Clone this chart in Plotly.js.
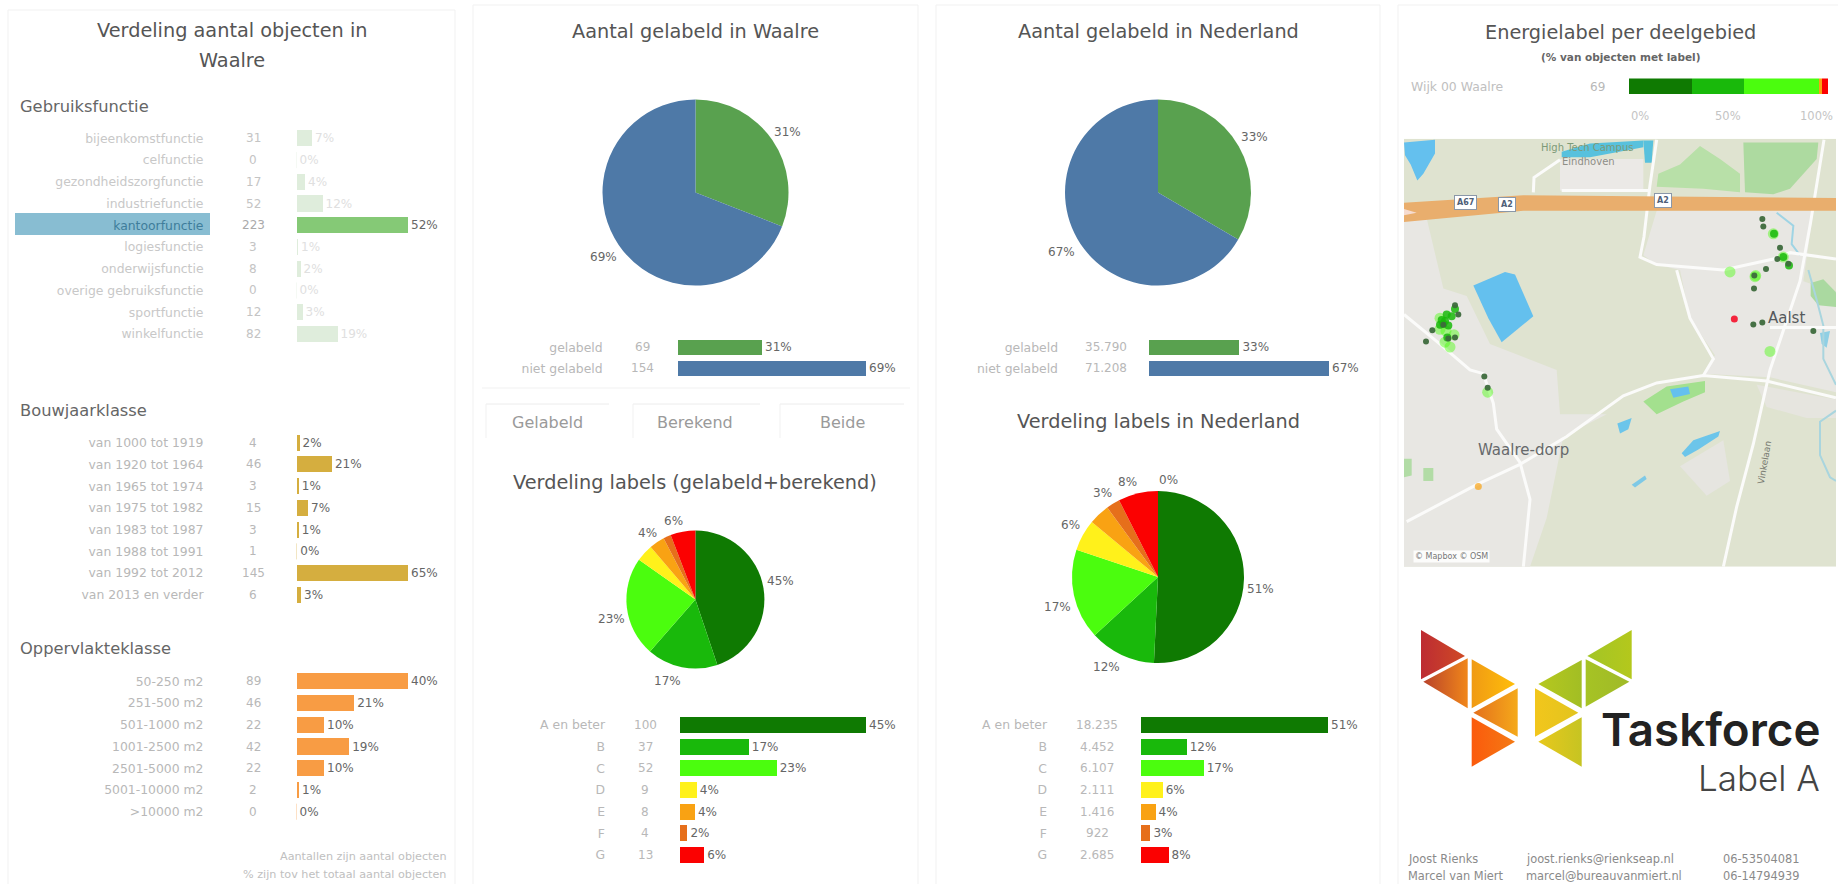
<!DOCTYPE html>
<html><head><meta charset="utf-8">
<script src="https://cdn.plot.ly/plotly-3.0.1.min.js"></script>
<style>html,body{margin:0;padding:0;background:#fff;overflow:hidden}#g{width:1838px;height:884px}</style>
</head><body><div id="g"></div>
<script>
const W=1838,H=884,FONT='"DejaVu Sans",sans-serif';
// ---------- data ----------
const gebruikCats=['bijeenkomstfunctie','celfunctie','gezondheidszorgfunctie','industriefunctie','kantoorfunctie','logiesfunctie','onderwijsfunctie','overige gebruiksfunctie','sportfunctie','winkelfunctie'];
const gebruikCounts=[31,0,17,52,223,3,8,0,12,82];
const gebruikPct=['7%','0%','4%','12%','52%','1%','2%','0%','3%','19%'];
const bouwjaarCats=['van 1000 tot 1919','van 1920 tot 1964','van 1965 tot 1974','van 1975 tot 1982','van 1983 tot 1987','van 1988 tot 1991','van 1992 tot 2012','van 2013 en verder'];
const bouwjaarCounts=[4,46,3,15,3,1,145,6];
const bouwjaarPct=['2%','21%','1%','7%','1%','0%','65%','3%'];
const oppCats=['50-250 m2','251-500 m2','501-1000 m2','1001-2500 m2','2501-5000 m2','5001-10000 m2','>10000 m2'];
const oppCounts=[89,46,22,42,22,2,0];
const oppPct=['40%','21%','10%','19%','10%','1%','0%'];
const gelabeldCats=['gelabeld','niet gelabeld'];
const waalreLabeled=[69,154];
const waalreLabeledPct=['31%','69%'];
const nlLabeled=[35790,71208];
const nlLabeledText=['35.790','71.208'];
const nlLabeledPct=['33%','67%'];
const labelCats=['A en beter','B','C','D','E','F','G'];
const waalreDist=[100,37,52,9,8,4,13];
const waalreDistPct=['45%','17%','23%','4%','4%','2%','6%'];
const nlDist=[18235,4452,6107,2111,1416,922,2685];
const nlDistText=['18.235','4.452','6.107','2.111','1.416','922','2.685'];
const nlDistPct=['51%','12%','17%','6%','4%','3%','8%'];
const wijkValues=[22,18,26,0,1,0,2];
const labelColors=['#0f7a02','#19b90b','#4bfd0e','#fff11b','#f9a213','#e66f1b','#fb0101'];
const gelabeldColors=['#59a14f','#4e79a7'];
// pie label texts with their page positions
const pieLabels=[
 ['31%',787,132],['69%',603,257],
 ['33%',1254,137],['67%',1061,252],
 ['45%',780,581],['17%',667,681],['23%',611,619],['4%',647,533],['6%',673,521],
 ['51%',1260,589],['12%',1106,667],['17%',1057,607],['6%',1070,525],['3%',1102,493],['8%',1127,482],['0%',1168,480]
];
// map points in map-axis units
const dotsAx=[1117,1120,1170,1162,1195,1128,1093,1092,1090,1117,1270,108,283,293,195,205,127,175,195,160];
const dotsAy=[592,612,670,700,713,727,745,780,877,872,895,923,1018,1048,825,850,893,915,912,878];
const dotsBx=[160,170,150,165,195,1152,1180,185,172,1197,155,175];
const dotsBy=[875,850,878,868,835,632,695,855,912,718,865,880];
const dotsCx=[1150,1180,1020,1140,180,165,150,293,168,1097,150,1095,192];
const dotsCy=[632,695,735,950,938,925,890,1060,895,745,860,748,905];
const dotsGx=[1033];const dotsGy=[862];
const dotsEx=[265];const dotsEy=[1315];

// ---------- helpers ----------
const px=x=>x/W, py=y=>1-y/H;
const shapes=[],annotations=[],traces=[],layout={};
let axisN=0;
function note(text,x,y,o={}){annotations.push(Object.assign({text,x:px(x),y:py(y),xref:'paper',yref:'paper',showarrow:false,xanchor:'center',yanchor:'middle',font:{family:FONT,size:12,color:'#b8b8b8'}},o,o.font?{font:Object.assign({family:FONT,size:12,color:'#b8b8b8'},o.font)}:{}));}
function rect(x0,y0,x1,y1,o={}){shapes.push(Object.assign({type:'rect',xref:'paper',yref:'paper',x0:px(x0),x1:px(x1),y0:py(y0),y1:py(y1),line:{width:1,color:'#f1f1f1'},fillcolor:'rgba(0,0,0,0)',layer:'below'},o));}
function hline(x0,y0,x1,y1,c='#f1f1f1'){shapes.push({type:'line',xref:'paper',yref:'paper',x0:px(x0),x1:px(x1),y0:py(y0),y1:py(y1),line:{width:1,color:c},layer:'below'});}
const titleFont={size:19.3,color:'#555555'};
const headFont={size:16.3,color:'#666666'};

function barGroup(o){
  const n=++axisN, cats=o.cats, step=o.step||21.74;
  const top=o.firstY-step/2, bot=top+step*cats.length;
  const maxV=Math.max(...o.values);
  layout['xaxis'+n]={domain:[px(o.x0),px(o.x1)],range:[0,maxV],visible:false,fixedrange:true,anchor:'y'+n};
  layout['yaxis'+n]={domain:[py(bot),py(top)],type:'category',categoryorder:'array',categoryarray:cats,autorange:'reversed',anchor:'x'+n,
    showgrid:false,zeroline:false,showline:false,ticks:'',fixedrange:true,tickmode:'array',tickvals:cats,
    ticktext:o.tickText||cats,tickfont:{family:FONT,size:12.4,color:'#b8b8b8'},ticklabelstandoff:Math.round(o.x0-o.labelRight)};
  traces.push({type:'bar',orientation:'h',y:cats,x:o.values,xaxis:'x'+n,yaxis:'y'+n,marker:{color:o.colors,line:{width:0}},
    text:o.pct,textposition:'outside',cliponaxis:false,constraintext:'none',textangle:0,
    textfont:{family:FONT,size:12,color:o.pctColors||'#666666'},hoverinfo:'skip'});
  cats.forEach((c,i)=>{
    annotations.push({text:String(o.countText?o.countText[i]:o.values[i]),x:px(o.countX),xref:'paper',y:c,yref:'y'+n,showarrow:false,xanchor:'center',yanchor:'middle',
      font:{family:FONT,size:12,color:o.countColors?o.countColors[i]:'#b8b8b8'}});
    // bars narrower than a pixel still leave a hairline in the reference
    if(o.values[i]/maxV*(o.x1-o.x0)<1) shapes.push({type:'line',xref:'x'+n,yref:'y'+n,x0:0,x1:0,y0:i-0.37,y1:i+0.37,line:{width:1,color:o.colors[i]},opacity:0.6,layer:'below'});
  });
}
function pie(o){
  traces.push({type:'pie',values:o.values,textinfo:'none',sort:false,direction:'clockwise',rotation:0,
    marker:{colors:o.colors,line:{width:0}},domain:{x:[px(o.cx-o.r),px(o.cx+o.r)],y:[py(o.cy+o.r),py(o.cy-o.r)]},showlegend:false,hoverinfo:'skip',automargin:false});
}

// ---------- panels ----------
rect(8,10,455,890);rect(473,5,918,890);rect(936,5,1380,890);rect(1398,5,1850,890);
hline(482,388,910,388);
[[486,609],[633,760],[780,904]].forEach(t=>{hline(t[0],404,t[1],404,'#ececec');hline(t[0],404,t[0],438,'#f1f1f1');});
pieLabels.forEach(l=>note(l[0],l[1],l[2],{font:{size:12,color:'#666666'}}));

// ---------- panel 1 ----------
note('Verdeling aantal objecten in',232,31,{font:titleFont});
note('Waalre',232,61,{font:titleFont});
note('Gebruiksfunctie',18,106,{xanchor:'left',font:headFont});
note('Bouwjaarklasse',18,410,{xanchor:'left',font:headFont});
note('Oppervlakteklasse',18,648,{xanchor:'left',font:headFont});
rect(15,213,210,235,{fillcolor:'#88bdd2',line:{width:0}});
const hi=gebruikCats.indexOf('kantoorfunctie');
barGroup({cats:gebruikCats,values:gebruikCounts,pct:gebruikPct,firstY:138.3,x0:296.5,x1:408,labelRight:205,countX:253,
  colors:gebruikCats.map((c,i)=>i===hi?'#85c976':'#dfeddc'),
  pctColors:gebruikCats.map((c,i)=>i===hi?'#666666':'#e0e0e0'),
  countColors:gebruikCats.map((c,i)=>i===hi?'#aaaaaa':'#c4c4c4'),
  tickText:gebruikCats.map((c,i)=>i===hi?'<span style="color:#3f7d9b">'+c+'</span>':'<span style="color:#c8c8c8">'+c+'</span>')});
barGroup({cats:bouwjaarCats,values:bouwjaarCounts,pct:bouwjaarPct,firstY:442.7,x0:296.5,x1:408,labelRight:205,countX:253,colors:bouwjaarCats.map(()=>'#d5ae3f')});
barGroup({cats:oppCats,values:oppCounts,pct:oppPct,firstY:681.3,x0:296.5,x1:408,labelRight:205,countX:253,colors:oppCats.map(()=>'#f89c44')});
note('Aantallen zijn aantal objecten',448,856,{xanchor:'right',font:{size:11.2,color:'#c0c0c0'}});
note('% zijn tov het totaal aantal objecten',448,874,{xanchor:'right',font:{size:11.2,color:'#c0c0c0'}});

// ---------- panel 2 ----------
note('Aantal gelabeld in Waalre',695,32,{font:titleFont});
pie({values:waalreLabeled,colors:gelabeldColors,cx:695.5,cy:192.5,r:93});
barGroup({cats:gelabeldCats,values:waalreLabeled,pct:waalreLabeledPct,firstY:347.3,step:21,x0:677.6,x1:866,labelRight:604,countX:642,colors:gelabeldColors});
note('Gelabeld',547,422,{font:{size:16,color:'#9a9a9a'}});
note('Berekend',695,422,{font:{size:16,color:'#9a9a9a'}});
note('Beide',842.5,422,{font:{size:16,color:'#9a9a9a'}});
note('Verdeling labels (gelabeld+berekend)',695,482.7,{font:titleFont});
pie({values:waalreDist,colors:labelColors,cx:695.4,cy:599.5,r:69});
barGroup({cats:labelCats,values:waalreDist,pct:waalreDistPct,firstY:725,step:21.67,x0:680,x1:866,labelRight:606,countX:645,colors:labelColors});

// ---------- panel 3 ----------
note('Aantal gelabeld in Nederland',1158,32,{font:titleFont});
pie({values:nlLabeled,colors:gelabeldColors,cx:1158,cy:192.5,r:93});
barGroup({cats:gelabeldCats,values:nlLabeled,countText:nlLabeledText,pct:nlLabeledPct,firstY:347.3,step:21,x0:1149,x1:1329,labelRight:1059,countX:1106,colors:gelabeldColors});
note('Verdeling labels in Nederland',1158,421.7,{font:titleFont});
pie({values:nlDist,colors:labelColors,cx:1158,cy:577,r:86});
barGroup({cats:labelCats,values:nlDist,countText:nlDistText,pct:nlDistPct,firstY:725,step:21.67,x0:1141,x1:1328,labelRight:1048,countX:1097,colors:labelColors});

// ---------- panel 4: header and stacked bar ----------
note('Energielabel per deelgebied',1620,33,{font:titleFont});
note('(% van objecten met label)',1620,56.6,{font:{size:10.5,color:'#666666',weight:700}});
note('Wijk 00 Waalre',1409,87,{xanchor:'left',font:{size:12.4,color:'#c0c0c0'}});
note('69',1597,87,{font:{size:12,color:'#b8b8b8'}});
{
  const n=++axisN, total=wijkValues.reduce((a,b)=>a+b,0);
  layout['xaxis'+n]={domain:[px(1629),px(1828)],range:[0,total],visible:false,fixedrange:true,anchor:'y'+n};
  layout['yaxis'+n]={domain:[py(94.3),py(78.4)],range:[-0.5,0.5],visible:false,fixedrange:true,anchor:'x'+n};
  wijkValues.forEach((v,i)=>traces.push({type:'bar',orientation:'h',x:[v],y:[0],width:[1],xaxis:'x'+n,yaxis:'y'+n,marker:{color:labelColors[i],line:{width:0}},hoverinfo:'skip',showlegend:false}));
  note('0%',1629,115.8,{xanchor:'left',font:{size:11.5,color:'#c4c4c4'}});
  note('50%',1728,115.8,{font:{size:11.5,color:'#c4c4c4'}});
  note('100%',1835,115.8,{xanchor:'right',font:{size:11.5,color:'#c4c4c4'}});
}

// ---------- panel 4: map ----------
const mapN=++axisN, mx='x'+mapN, my='y'+mapN;
layout['xaxis'+mapN]={domain:[px(1404),px(1836)],range:[42,1338],visible:false,fixedrange:true,anchor:my};
layout['yaxis'+mapN]={domain:[py(566.8),py(138.7)],range:[1532,375],visible:false,fixedrange:true,anchor:mx};
const toPath=(p,close)=>'M'+p.map(q=>q.join(',')).join('L')+(close?'Z':'');
function poly(p,fill){shapes.push({type:'path',xref:mx,yref:my,path:toPath(p,true),fillcolor:fill,line:{width:0},layer:'below'});}
function road(p,color='#fbfbfa',w=3){shapes.push({type:'path',xref:mx,yref:my,path:toPath(p,false),fillcolor:'rgba(0,0,0,0)',line:{width:w,color},layer:'below'});}
poly([[42,375],[1338,375],[1338,1532],[42,1532]],'#dfe3d0');
const urban='#e8e7e3';
poly([[510,430],[760,430],[760,515],[510,515]],'#ebe9e6');
poly([[800,570],[1270,570],[1240,760],[1338,790],[1338,1060],[1140,1020],[940,1010],[975,960],[900,860],[870,730],[800,715],[760,690]],urban);
poly([[42,590],[110,590],[160,780],[230,800],[300,930],[500,1000],[510,1120],[650,1120],[520,1180],[470,1400],[420,1532],[42,1532]],urban);
poly([[1100,1040],[1338,1080],[1338,1130],[1250,1130],[1130,1100]],'#e6e5df');
poly([[870,1260],[1000,1190],[1020,1300],[950,1340]],'#e6e5e0');
// parks
poly([[800,505],[805,470],[870,445],[930,395],[990,430],[1050,470],[1050,520],[940,510]],'#b8e0a8');
poly([[1060,385],[1285,385],[1280,430],[1200,510],[1150,525],[1065,520]],'#addaa0');
poly([[1262,765],[1300,755],[1338,790],[1338,830],[1285,825],[1262,800]],'#aad9a0');
poly([[760,1085],[830,1045],[945,1030],[945,1060],[880,1085],[800,1120]],'#a3e08e');
poly([[42,1240],[65,1240],[65,1285],[42,1290]],'#b2dca6');
poly([[100,1265],[130,1265],[130,1300],[100,1300]],'#b2dca6');
// water
const water='#64c0ee';
poly([[250,772],[345,735],[375,742],[430,855],[335,925],[295,860]],water);
poly([[42,385],[135,378],[135,415],[100,470],[82,488],[62,445],[45,420]],water);
poly([[515,410],[600,388],[760,380],[760,398],[600,425],[515,425]],'#58c1dd');
poly([[760,380],[790,380],[785,440],[765,440]],'#58c1dd');
poly([[840,1052],[895,1045],[900,1065],[850,1075]],water);
poly([[682,1145],[725,1130],[715,1160],[690,1172]],'#6cc5ea');
poly([[875,1225],[910,1190],[990,1165],[985,1180],[925,1215],[885,1235]],'#6cc5ea');
poly([[725,1310],[765,1285],[770,1295],[735,1318]],'#7ec9e6');
poly([[1290,900],[1320,895],[1310,940],[1295,930]],'#8fcfe4');
road([[1160,575],[1210,610],[1205,660],[1230,690]],'#9fd4e4',2);
road([[1255,730],[1280,810],[1300,880],[1300,970],[1338,1040]],'#a9d5de',2);
road([[1338,1110],[1290,1140],[1290,1230],[1320,1290],[1338,1300]],'#a9d5de',2);
// roads
const R=[
 [[800,378],[780,500],[762,640],[750,695],[800,715],[1000,730],[1150,700],[1200,683],[1338,700]],
 [[50,1410],[260,1310],[390,1255],[530,1180],[700,1070],[800,1035],[940,1015],[1130,1030],[1338,1075]],
 [[1302,378],[1262,600],[1230,760],[1140,1000],[1090,1200],[1040,1370],[1000,1532]],
 [[42,850],[150,930],[240,1000],[280,1010],[310,1090],[320,1160],[390,1250],[420,1350],[400,1532]],
 [[860,730],[900,860],[970,970],[940,1015]],
 [[430,520],[432,480],[510,432]],
 [[515,515],[780,515]],
 [[1140,885],[1338,885]]
];
R.forEach(r=>road(r));
// motorway
poly([[42,548],[400,528],[1338,535],[1338,570],[400,570],[42,600]],'#e9ae6d');
poly([[42,565],[80,575],[42,582]],'#f6dcd0');
// map labels
const shield=(t,x,y)=>annotations.push({text:'<b>'+t+'</b>',x,y,xref:mx,yref:my,showarrow:false,bgcolor:'#ffffff',bordercolor:'#8a97a8',borderwidth:1,borderpad:2,font:{family:FONT,size:8,color:'#4f5f78'}});
shield('A67',225,547);shield('A2',352,553);shield('A2',818,543);
const mapText=(t,x,y,s,c,a=0)=>annotations.push({text:t,x,y,xref:mx,yref:my,showarrow:false,textangle:a,font:{family:FONT,size:s,color:c}});
mapText('High Tech Campus',592,398,10,'#7d9a78');
mapText('Eindhoven',595,437,10,'#8e8e86');
mapText('Aalst',1190,860,15,'#55595c');
mapText('Waalre-dorp',400,1215,15,'#66696b');
mapText('Vinkelaan',1125,1250,9,'#77796f',-80);
annotations.push({text:'© Mapbox © OSM',x:185,y:1505,xref:mx,yref:my,showarrow:false,bgcolor:'rgba(255,255,255,.85)',borderpad:1,font:{family:FONT,size:8,color:'#777777'}});
// map markers
function dots(x,y,color,size,opacity){traces.push({type:'scatter',mode:'markers',x,y,xaxis:mx,yaxis:my,marker:{color,size,opacity,line:{width:0}},hoverinfo:'skip',showlegend:false,cliponaxis:false});}
dots(dotsCx,dotsCy,'#4bfd0e',11,0.45);
dots(dotsBx,dotsBy,'#19b90b',8,0.85);
dots(dotsAx,dotsAy,'#3d6a3c',6,0.95);
dots(dotsEx,dotsEy,'#f9a213',7,0.7);
dots(dotsGx,dotsGy,'#f5102a',7,0.9);

// ---------- panel 4: logo ----------
const logoN=++axisN, lx='x'+logoN, ly='y'+logoN;
layout['xaxis'+logoN]={domain:[px(1390),px(1838)],range:[0,1344],visible:false,fixedrange:true,anchor:ly};
layout['yaxis'+logoN]={domain:[py(884),py(580)],range:[912,0],visible:false,fixedrange:true,anchor:lx};
const logoTri=[
 {p:[[93,150],[225,228],[93,298]],c:['#bd2c33','#cf4a25']},
 {p:[[100,305],[233,235],[233,385]],c:['#b9432a','#f0861a']},
 {p:[[245,238],[375,312],[245,385]],c:['#f09a14','#ffbe0a']},
 {p:[[383,325],[383,470],[250,398]],c:['#e4701c','#f5a91a']},
 {p:[[245,412],[375,485],[245,560]],c:['#fb5a0c','#f47a14']},
 {p:[[725,150],[725,298],[592,228]],c:['#a3c526','#b4c81c']},
 {p:[[575,240],[575,385],[445,312]],c:['#b6c81e','#a2be24']},
 {p:[[587,238],[718,305],[587,380]],c:['#a6c324','#a0ba28']},
 {p:[[435,325],[565,398],[435,470]],c:['#f2c61c','#e2c41e']},
 {p:[[575,412],[575,560],[445,485]],c:['#e8c81c','#c6c422']}
];
logoTri.forEach(t=>traces.push({type:'scatter',mode:'lines',x:t.p.concat([t.p[0]]).map(q=>q[0]),y:t.p.concat([t.p[0]]).map(q=>q[1]),xaxis:lx,yaxis:ly,fill:'toself',
  fillgradient:{type:'horizontal',colorscale:[[0,t.c[0]],[1,t.c[1]]]},line:{width:0},hoverinfo:'skip',showlegend:false}));
note('Taskforce',1822,729,{xanchor:'right',font:{family:'Inter',size:45.7,color:'#222222',weight:600}});
note('Label A',1822,778,{xanchor:'right',font:{family:'Inter',size:35,color:'#444444',weight:300}});
[['Joost Rienks','joost.rienks@rienkseap.nl','06-53504081',859],['Marcel van Miert','marcel@bureauvanmiert.nl','06-14794939',876]].forEach(r=>{
  note(r[0],1405.5,r[3],{xanchor:'left',font:{size:11.4,color:'#8a8a8a'}});
  note(r[1],1524,r[3],{xanchor:'left',font:{size:11.4,color:'#8a8a8a'}});
  note(r[2],1721,r[3],{xanchor:'left',font:{size:11.4,color:'#8a8a8a'}});
});

Object.assign(layout,{width:W,height:H,margin:{l:0,r:0,t:0,b:0},paper_bgcolor:'#ffffff',plot_bgcolor:'rgba(0,0,0,0)',showlegend:false,barmode:'stack',bargap:0.26,shapes,annotations,font:{family:FONT}});
Plotly.newPlot('g',traces,layout,{staticPlot:true,displayModeBar:false});
</script></body></html>
